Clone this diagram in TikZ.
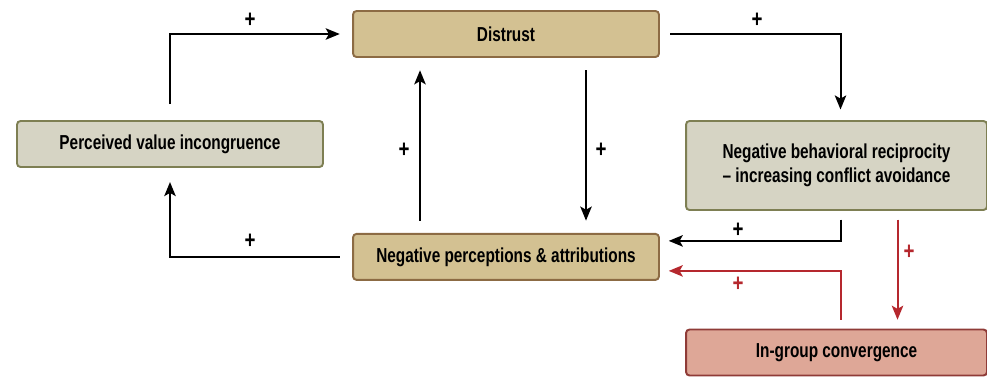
\documentclass[tikz,border=0pt]{standalone}
\usepackage{fontspec}
\setmainfont{Liberation Sans}
\newfontfamily\condfont[FakeStretch=0.76, Ligatures=TeX]{Liberation Sans}
\usepackage{tikz}
\usetikzlibrary{positioning, calc, arrows.meta}

\definecolor{tanfill}{HTML}{D3C192}
\definecolor{tanline}{HTML}{8C6B44}
\definecolor{greyfill}{HTML}{D6D4C4}
\definecolor{greyline}{HTML}{7E7F53}
\definecolor{pinkfill}{HTML}{DEA797}
\definecolor{pinkline}{HTML}{8F3B37}
\definecolor{loopred}{HTML}{B5282E}

\begin{document}
\begin{tikzpicture}[
x=0.02cm, y=-0.02cm,
box/.style={rectangle,
  rounded corners=2pt,
  line width=1.1pt,
  align=center,
  font=\condfont\bfseries\fontsize{11.5}{14}\selectfont,
  minimum width=6.12cm,
  minimum height=0.92cm,
},
tanbox/.style={box, draw=tanline, fill=tanfill},
greybox/.style={box, draw=greyline, fill=greyfill},
pinkbox/.style={box, draw=pinkline, fill=pinkfill},
link/.style={->, line width=1.15pt},
sign/.style={font=\condfont\bfseries\fontsize{14}{14}\selectfont},
>={Stealth[length=8pt,width=6.5pt,inset=1.8pt]}
]
\useasboundingbox (0,0) rectangle (987,376);

\node[tanbox] (distrust) at (506,34)
    {Distrust};
\node[greybox] (pvi) at (170,144)
    {Perceived value incongruence};
\node[tanbox, below=3.5cm of distrust.south, anchor=north] (npa)
    {Negative perceptions \& attributions};
\node[greybox, minimum width=6.02cm, minimum height=1.78cm] (nbr) at (836.5,165.5)
    {Negative behavioral reciprocity\\ \textendash{} increasing conflict avoidance};
\node[pinkbox, minimum width=6.02cm] (igc) at (836.5,352.5)
    {In-group convergence};

% outer loop
\draw[link, shorten <=9pt, shorten >=7pt] (pvi.north) |- (distrust.west);
\draw[link, shorten <=6pt, shorten >=6pt] (distrust.east) -| ($(nbr.north)+(4,0)$);
\draw[link, shorten <=7pt, shorten >=8pt] (npa.west) -| (pvi.south);

% inner arrows
\draw[link, shorten <=7pt, shorten >=7pt] ($(npa.north)+(-86,0)$) -- ($(distrust.south)+(-86,0)$);
\draw[link, shorten <=7pt, shorten >=7pt] ($(distrust.south)+(80,0)$) -- ($(npa.north)+(80,0)$);
\draw[link, shorten <=5pt, shorten >=5pt] ($(nbr.south)+(4,0)$) |- ($(npa.east)+(0,-16)$);

% red arrows
\draw[link, loopred, shorten <=5pt, shorten >=5pt] ($(igc.north)+(4,0)$) |- ($(npa.east)+(0,14)$);
\draw[link, loopred, shorten <=5pt, shorten >=5pt] ($(nbr.south)+(61,0)$) -- ($(igc.north)+(61,0)$);

% signs
\node[sign] (s1) at (250,20) {+};
\node[sign] (s2) at (757,20) {+};
\node[sign] (s3) at (404,150) {+};
\node[sign] (s4) at (601,150) {+};
\node[sign] (s5) at (250,241) {+};
\node[sign] (s6) at (738,230) {+};
\node[sign, loopred] (s7) at (738,284) {+};
\node[sign, loopred] (s8) at (909,252) {+};
\end{tikzpicture}
\end{document}
